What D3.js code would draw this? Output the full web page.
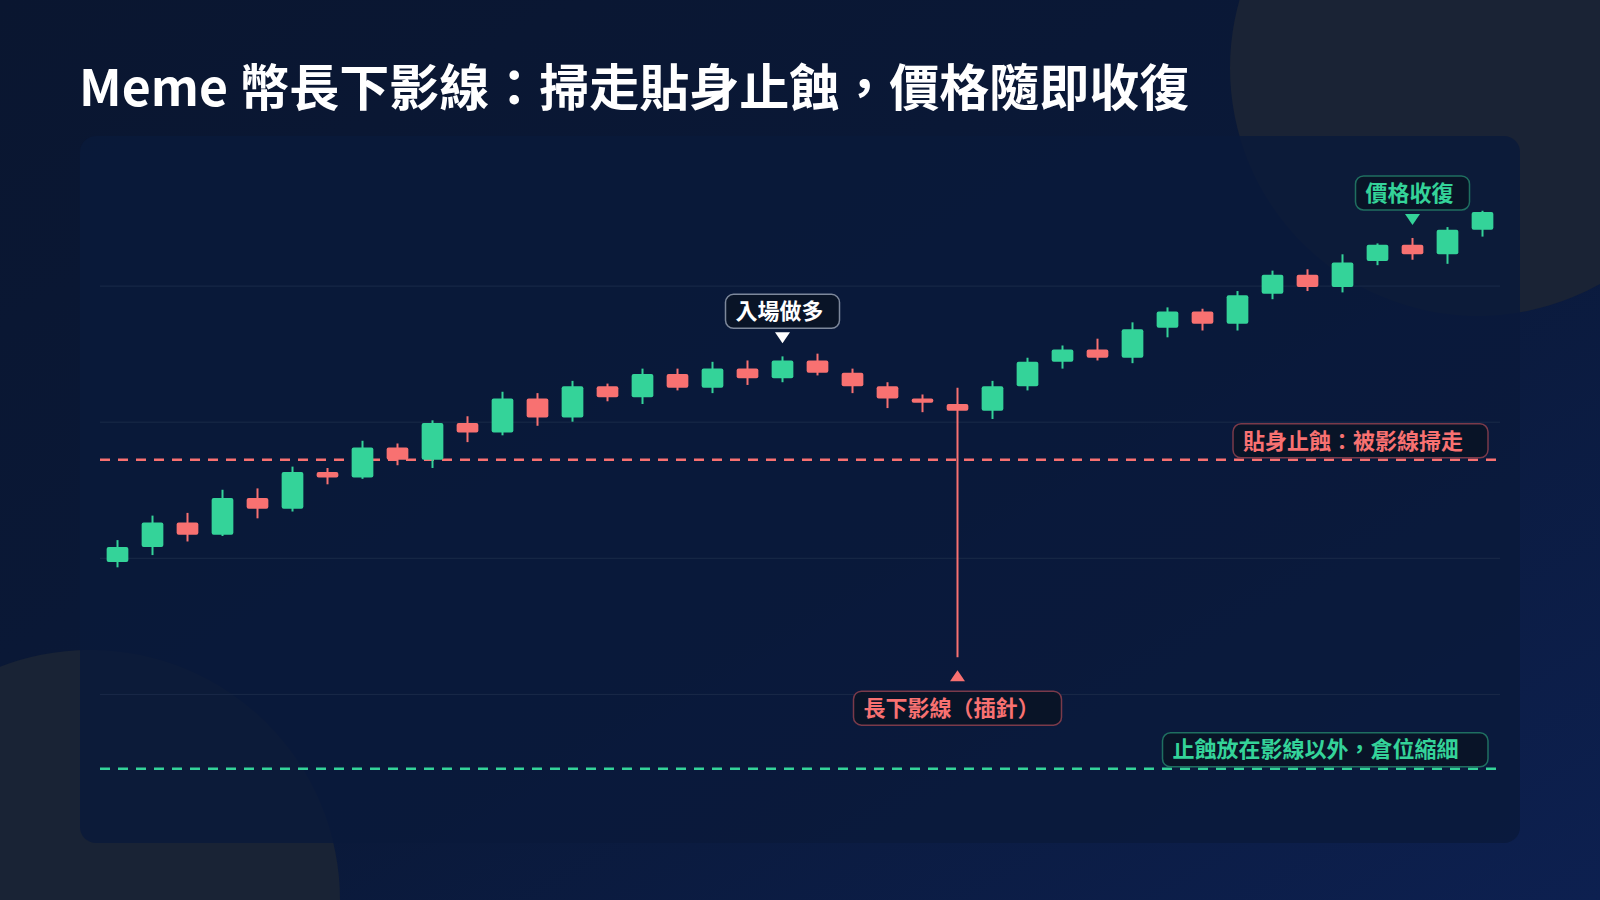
<!DOCTYPE html>
<html>
<head>
<meta charset="utf-8">
<script src="https://cdn.jsdelivr.net/npm/d3@7"></script>
<style>
  body { margin: 0; background: #0b1733; }
  svg { display: block; }
</style>
</head>
<body>
<script>
const width = 1600
const height = 900
const font = '"Noto Sans CJK TC", "Noto Sans CJK SC", sans-serif'

const green = '#34d399'
const red = '#f87171'

// candle data (price in cents)
const opens  = [89.7, 90.8, 92.6, 91.7, 94.4, 93.6, 96.3, 95.9, 98.1, 97.2, 99.9, 99.2, 101.7, 100.3, 102.6, 101.8, 103.5, 102.5, 103.9, 103.2,
                104.5, 103.6, 102.6, 101.7, 101.3, 100.8, 102.6, 104.4, 105.3, 104.7, 106.9, 108.1, 107.2, 109.4, 110.8, 109.9, 111.8, 113.0, 112.3, 114.1]
const highs  = [91.3, 93.1, 93.3, 95.0, 95.1, 96.7, 96.6, 98.6, 98.4, 100.1, 100.4, 102.2, 102.1, 103.0, 102.8, 103.9, 103.9, 104.4, 104.5, 104.8,
                105.0, 103.9, 102.9, 102.0, 102.5, 103.0, 104.7, 105.6, 106.1, 107.3, 108.4, 108.3, 109.6, 111.1, 111.2, 112.3, 113.1, 113.5, 114.3, 115.5]
const lows   = [89.3, 90.2, 91.2, 91.6, 92.9, 93.4, 95.4, 95.8, 96.8, 96.6, 98.5, 99.0, 99.7, 100.0, 101.5, 101.3, 102.3, 102.1, 102.7, 102.9,
                103.4, 102.1, 101.0, 100.7, 82.7, 100.2, 102.3, 103.9, 104.5, 104.3, 106.2, 106.7, 106.7, 109.0, 109.6, 109.5, 111.5, 111.9, 111.6, 113.6]
const closes = [90.8, 92.6, 91.7, 94.4, 93.6, 96.3, 95.9, 98.1, 97.2, 99.9, 99.2, 101.7, 100.3, 102.6, 101.8, 103.5, 102.5, 103.9, 103.2, 104.5,
                103.6, 102.6, 101.7, 101.4, 100.8, 102.6, 104.4, 105.3, 104.7, 106.8, 108.1, 107.2, 109.3, 110.8, 109.9, 111.7, 113.0, 112.3, 114.1, 115.4]

const gridTicks = [80, 90, 100, 110]
const tightStop = 97.2
const wideStop = 74.5

const title = 'Meme 幣長下影線：掃走貼身止蝕，價格隨即收復'
const entryIndex = 19, entryText = '入場做多'
const recoverIndex = 37, recoverText = '價格收復'
const pinIndex = 24, pinText = '長下影線（插針）'
const tightText = '貼身止蝕：被影線掃走'
const wideText = '止蝕放在影線以外，倉位縮細'

const candles = opens.map((o, i) => ({ i: i, o: o, h: highs[i], l: lows[i], c: closes[i] }))

const svg = d3.select('body').append('svg')
        .attr('width', width)
        .attr('height', height)

const defs = svg.append('defs')
const bg = defs.append('linearGradient')
        .attr('id', 'bg')
        .attr('x1', 0).attr('y1', 0).attr('x2', 1).attr('y2', 1)
bg.append('stop').attr('offset', '0%').attr('stop-color', '#0a1630')
bg.append('stop').attr('offset', '55%').attr('stop-color', '#0a1939')
bg.append('stop').attr('offset', '100%').attr('stop-color', '#0d2050')

svg.append('rect')
        .attr('width', width)
        .attr('height', height)
        .attr('fill', 'url(#bg)')

// soft circles behind the panel
svg.append('circle').attr('cx', 1478).attr('cy', 68).attr('r', 248).attr('fill', '#1a2335')
svg.append('circle').attr('cx', 90).attr('cy', 900).attr('r', 250).attr('fill', '#192335')

svg.append('text')
        .attr('x', 79)
        .attr('y', 106)
        .attr('fill', '#ffffff')
        .style('font-family', font)
        .style('font-weight', 700)
        .style('font-size', '50px')
        .text(title)

svg.append('rect')
        .attr('x', 80).attr('y', 136)
        .attr('width', 1440).attr('height', 707)
        .attr('rx', 16)
        .attr('fill', '#0a1a3a')
        .attr('fill-opacity', 0.82)

// scales
const xScale = d3.scalePoint()
        .domain(candles.map(d => d.i))
        .range([100, 1500])
        .padding(0.5)

const yScale = d3.scaleLinear()
        .domain([70, 120])
        .range([830, 149.5])

const bodyW = xScale.step() * 0.62

const yAxis = d3.axisLeft(yScale)
        .tickValues(gridTicks)
        .tickSize(-1400)
        .tickFormat('')

svg.append('g')
        .attr('transform', 'translate(100,0)')
        .call(yAxis)
        .call(g => g.select('.domain').remove())
        .call(g => g.selectAll('.tick line').attr('stroke', '#1a2a48').attr('stroke-width', 1))

// stop lines
const stops = [{ v: tightStop, color: red }, { v: wideStop, color: green }]
svg.selectAll('line.stop')
        .data(stops)
        .join('line')
        .attr('class', 'stop')
        .attr('x1', 100).attr('x2', 1500)
        .attr('y1', d => yScale(d.v)).attr('y2', d => yScale(d.v))
        .attr('stroke', d => d.color)
        .attr('stroke-width', 2.5)
        .attr('stroke-dasharray', '10 8')

// candles
const cg = svg.append('g')
cg.selectAll('line.wick')
        .data(candles)
        .join('line')
        .attr('class', 'wick')
        .attr('x1', d => xScale(d.i)).attr('x2', d => xScale(d.i))
        .attr('y1', d => yScale(d.h)).attr('y2', d => yScale(d.l))
        .attr('stroke', d => d.c >= d.o ? green : red)
        .attr('stroke-width', 2)

cg.selectAll('rect.body')
        .data(candles)
        .join('rect')
        .attr('class', 'body')
        .attr('x', d => xScale(d.i) - bodyW / 2)
        .attr('y', d => yScale(Math.max(d.o, d.c)))
        .attr('width', bodyW)
        .attr('height', d => Math.max(3, Math.abs(yScale(d.o) - yScale(d.c))))
        .attr('rx', 2)
        .attr('fill', d => d.c >= d.o ? green : red)

// label boxes
const boxW = t => t.length * 23.5 + 20
const label = (x, y, t, color, border) => {
    const g = svg.append('g').attr('transform', 'translate(' + x + ',' + y + ')')
    g.append('rect')
        .attr('width', boxW(t)).attr('height', 34)
        .attr('rx', 8)
        .attr('fill', '#0a1426')
        .attr('fill-opacity', 0.92)
        .attr('stroke', border)
        .attr('stroke-width', 1.5)
    g.append('text')
        .attr('x', 10).attr('y', 17)
        .attr('dy', '0.35em')
        .attr('fill', color)
        .style('font-family', font)
        .style('font-weight', 700)
        .style('font-size', '22px')
        .text(t)
}
const tri = (x, tipY, dir, color) => {
    const b = tipY - dir * 11
    svg.append('path')
        .attr('d', 'M' + x + ',' + tipY + 'L' + (x - 7.5) + ',' + b + 'L' + (x + 7.5) + ',' + b + 'Z')
        .attr('fill', color)
}

// entry + recovery marks above candles
const above = [
    { i: entryIndex, t: entryText, color: '#ffffff', border: '#7d889b' },
    { i: recoverIndex, t: recoverText, color: green, border: '#1f6f60' }
]
above.forEach(a => {
    const cx = xScale(a.i)
    const tip = yScale(highs[a.i]) - 13
    tri(cx, tip, 1, a.color)
    label(cx - boxW(a.t) / 2, tip - 11 - 4 - 34, a.t, a.color, a.border)
})

// pin bar mark below
const pinX = xScale(pinIndex)
const pinTip = yScale(lows[pinIndex]) + 13
tri(pinX, pinTip, -1, red)
label(pinX - boxW(pinText) / 2, pinTip + 11 + 10, pinText, red, '#7a3a4a')

// stop labels, right aligned
label(1488 - boxW(tightText), yScale(tightStop) - 36, tightText, red, '#7a3a4a')
label(1488 - boxW(wideText), yScale(wideStop) - 36, wideText, green, '#1f6f60')
</script>
</body>
</html>
